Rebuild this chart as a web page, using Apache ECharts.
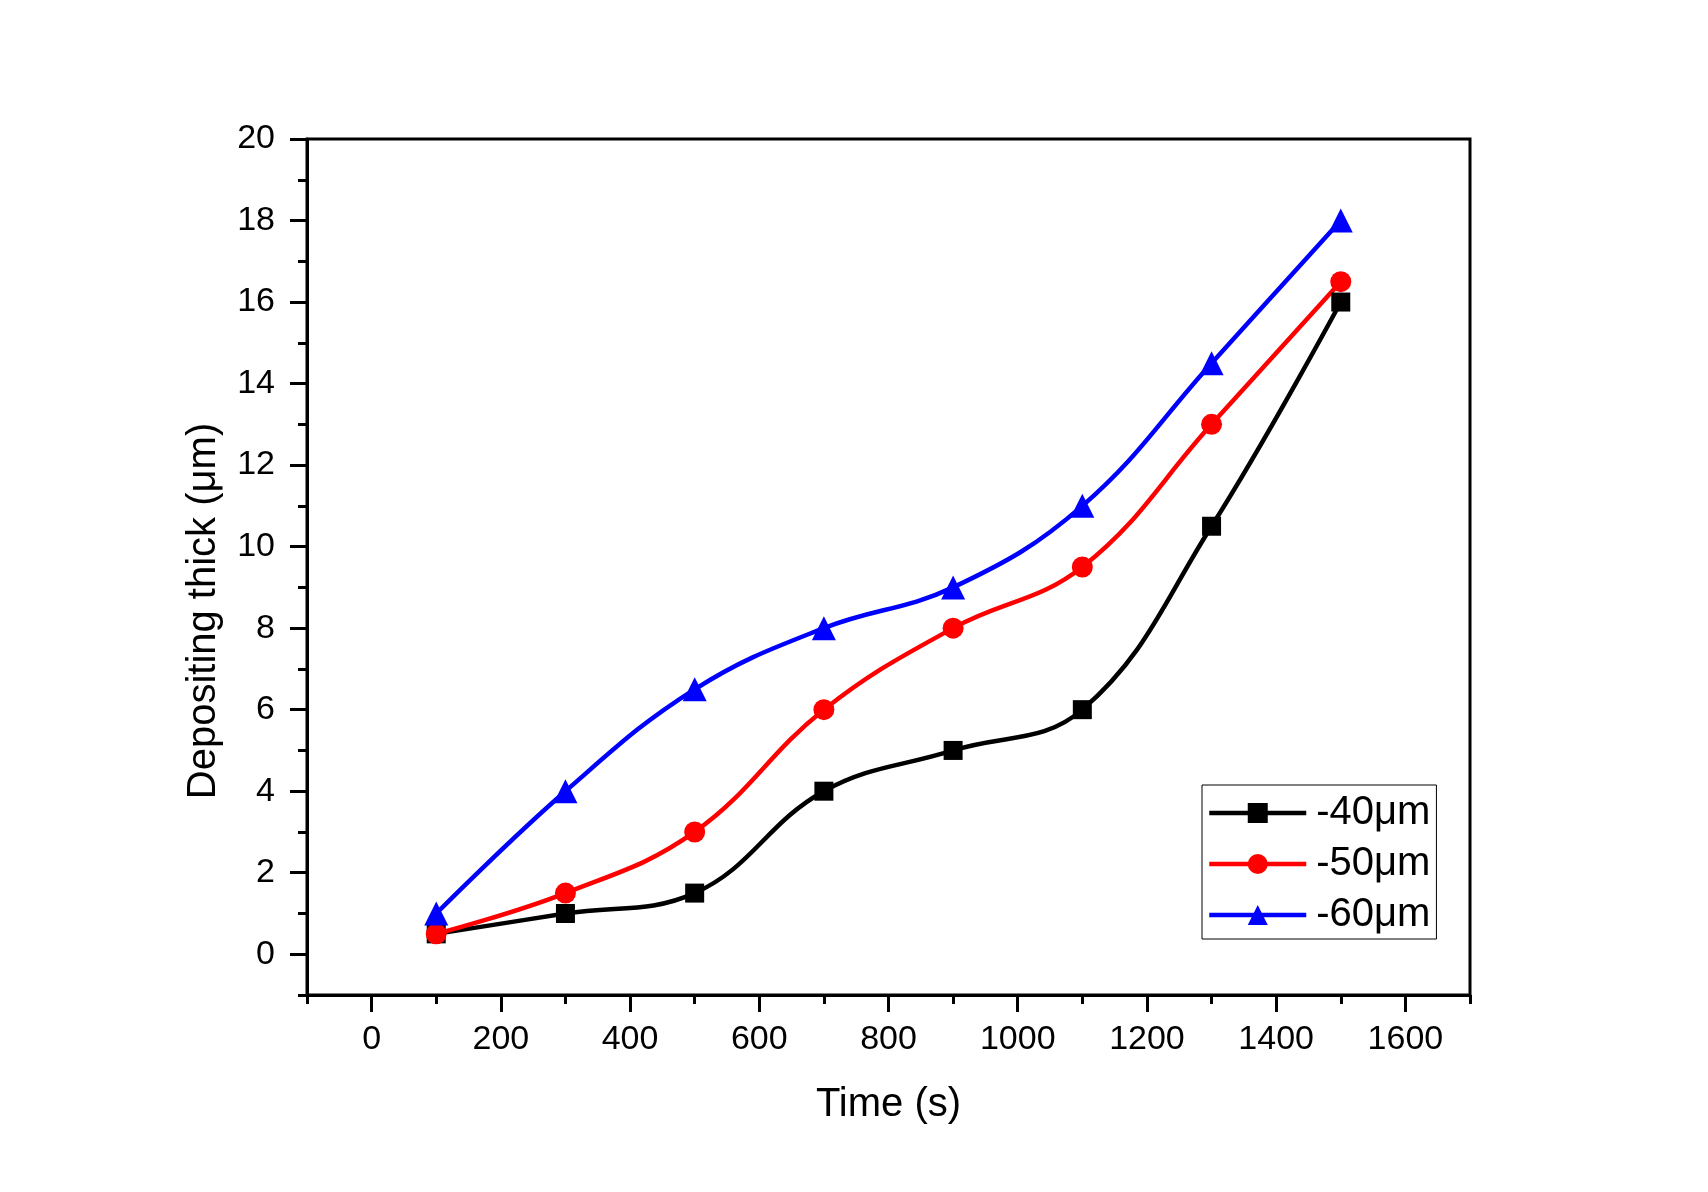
<!DOCTYPE html>
<html>
<head>
<meta charset="utf-8">
<script src="https://cdn.jsdelivr.net/npm/echarts@6/dist/echarts.min.js"></script>
<style>html,body{margin:0;padding:0;background:#fff}#c{width:1708px;height:1192px}</style>
</head>
<body>
<div id="c"></div>
<script>
const times = [100, 300, 500, 700, 900, 1100, 1300, 1500];
const s40 = [0.5, 1, 1.5, 4, 5, 6, 10.5, 16];
const s50 = [0.5, 1.5, 3, 6, 8, 9.5, 13, 16.5];
const s60 = [1, 4, 6.5, 8, 9, 11, 14.5, 18];
const seriesNames = ['-40\u03bcm', '-50\u03bcm', '-60\u03bcm'];
const xMajor = [0, 200, 400, 600, 800, 1000, 1200, 1400, 1600];
const xMinor = [-100, 100, 300, 500, 700, 900, 1100, 1300, 1500, 1700];
const yMajor = [0, 2, 4, 6, 8, 10, 12, 14, 16, 18, 20];
const yMinor = [-1, 1, 3, 5, 7, 9, 11, 13, 15, 17, 19];

const FONT = "'Liberation Sans', Arial, Helvetica, sans-serif";
const pair = arr => times.map((t, i) => [t, arr[i]]);

const chart = echarts.init(document.getElementById('c'), null, {renderer: 'canvas'});
const lineW = 4.5;
function mkSeries(name, data, color, symbol, size) {
  return {
    name, type: 'line', data: pair(data), smooth: 0.4,
    symbol, symbolSize: size,
    lineStyle: {color, width: lineW},
    itemStyle: {color},
    xAxisIndex: 0, yAxisIndex: 0,
    z: 3
  };
}
const plain = v => String(v);
chart.setOption({
  animation: false,
  backgroundColor: '#fff',
  grid: {left: 307, right: 238, top: 139, bottom: 197, show: true,
         borderColor: '#000', borderWidth: 3, backgroundColor: 'transparent', containLabel: false},
  xAxis: [{
    type: 'value', min: -100, max: 1700, position: 'bottom',
    name: 'Time (s)', nameLocation: 'middle', nameGap: 90,
    nameTextStyle: {fontFamily: FONT, fontSize: 40, color: '#000'},
    axisLine: {show: true, onZero: false, lineStyle: {color: '#000', width: 3}},
    axisTick: {show: true, customValues: xMajor, length: 17, lineStyle: {color: '#000', width: 3}},
    axisLabel: {customValues: xMajor, formatter: plain, margin: 28, fontFamily: FONT, fontSize: 34, color: '#000'},
    splitLine: {show: false}
  }, {
    type: 'value', min: -100, max: 1700, position: 'bottom',
    axisLine: {show: false, onZero: false},
    axisTick: {show: true, customValues: xMinor, length: 9, lineStyle: {color: '#000', width: 3}},
    axisLabel: {show: false},
    splitLine: {show: false}
  }],
  yAxis: [{
    type: 'value', min: -1, max: 20, position: 'left',
    axisLine: {show: true, onZero: false, lineStyle: {color: '#000', width: 3}},
    axisTick: {show: true, customValues: yMajor, length: 17, lineStyle: {color: '#000', width: 3}},
    axisLabel: {customValues: yMajor, formatter: plain, margin: 32, fontFamily: FONT, fontSize: 34, color: '#000'},
    splitLine: {show: false}
  }, {
    type: 'value', min: -1, max: 20, position: 'left',
    axisLine: {show: false, onZero: false},
    axisTick: {show: true, customValues: yMinor, length: 9, lineStyle: {color: '#000', width: 3}},
    axisLabel: {show: false},
    splitLine: {show: false}
  }],
  legend: {
    orient: 'vertical', left: 1202, top: 785,
    data: seriesNames,
    itemWidth: 97, itemHeight: 25, itemGap: 11,
    padding: [8, 6, 4, 5],
    borderColor: '#000', borderWidth: 1, backgroundColor: '#fff',
    lineStyle: {width: 4.5},
    textStyle: {fontFamily: FONT, fontSize: 40, color: '#000', padding: [0, 0, 0, 5]},
    selectedMode: false
  },
  graphic: [{
    type: 'text', x: 204, y: 611, rotation: Math.PI / 2,
    style: {text: 'Depositing thick (\u03bcm)', fontFamily: FONT, fontSize: 40, fill: '#000',
            align: 'center', verticalAlign: 'middle'}
  }],
  series: [
    mkSeries(seriesNames[0], s40, '#000000', 'rect', 19),
    mkSeries(seriesNames[1], s50, '#ff0000', 'circle', 21),
    mkSeries(seriesNames[2], s60, '#0000ff', 'triangle', 24)
  ]
});
</script>
</body>
</html>
